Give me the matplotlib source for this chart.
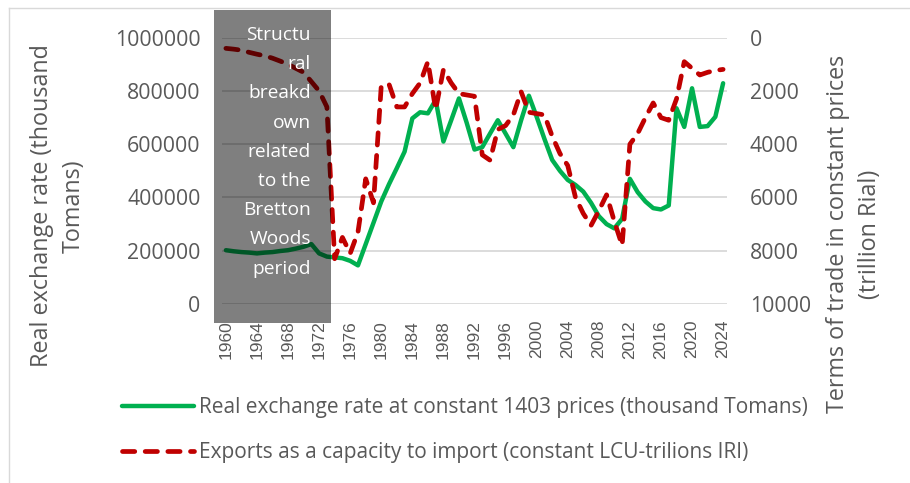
import numpy as np
import matplotlib.pyplot as plt
from matplotlib.patches import Rectangle
from matplotlib.lines import Line2D

# data
years = np.arange(1960, 2025)

real_exchange_rate = [
    202000, 198000, 195000, 193000, 190000, 193000, 195000, 199000, 202000, 208000,
    215000, 225000, 190000, 178000, 175000, 172000, 162000, 145000, 225000, 305000,
    385000, 450000, 510000, 572000, 697000, 720000, 716000, 766000, 610000, 690000,
    772000, 680000, 580000, 589000, 640000, 690000, 640000, 589000, 690000, 782000,
    703000, 620000, 541000, 500000, 466000, 447000, 422000, 380000, 330000, 300000,
    284000, 320000, 470000, 420000, 385000, 360000, 355000, 370000, 735000, 665000,
    810000, 665000, 668000, 703000, 829000,
]

exports_capacity = [
    400, 430, 470, 550, 620, 680, 770, 880, 1000, 1150,
    1300, 1650, 2000, 2600, 8300, 7500, 8100, 7300, 5300, 6200,
    1800, 1750, 2600, 2600, 2100, 1700, 900, 2700, 1200, 1700,
    2100, 2150, 2200, 4400, 4600, 3450, 3300, 2900, 2030, 2800,
    2850, 2900, 3700, 4350, 4800, 6000, 6600, 7050, 6500, 5900,
    6900, 7800, 4000, 3600, 3000, 2450, 3000, 3100, 2300, 900,
    1150, 1400, 1300, 1230, 1190,
]

tick_years = years[::4]
left_ticks = [0, 200000, 400000, 600000, 800000, 1000000]
right_ticks = [0, 2000, 4000, 6000, 8000, 10000]

left_label = 'Real exchange rate (thousand\nTomans)'
right_label = 'Terms of trade in constant prices\n(trillion Rial)'
green_name = 'Real exchange rate at constant 1403 prices (thousand Tomans)'
red_name = 'Exports as a capacity to import (constant LCU-trilions IRI)'
box_lines = ['Structu', 'ral', 'breakd', 'own', 'related', 'to the',
             'Bretton', 'Woods', 'period']

W, H = 910, 483
GREEN = '#00B050'
RED = '#C00000'
TXT = '#595959'
FONT = 'Open Sans'


def fx(x):
    return x / W


def fy(y):
    return 1 - y / H


fig = plt.figure(figsize=(W / 100, H / 100), dpi=100)

# chart area border (only top/left visible)
fig.add_artist(Line2D([fx(9), fx(9)], [fy(8), 0], color='#d9d9d9', lw=1))
fig.add_artist(Line2D([fx(9), 1], [fy(8), fy(8)], color='#d9d9d9', lw=1))

ax = fig.add_axes([fx(222), fy(304), (727 - 222) / W, (304 - 37.7) / H])
ax2 = ax.twinx()

ax.plot(years, real_exchange_rate, color=GREEN, lw=3.2, solid_capstyle='round',
        solid_joinstyle='round', label=green_name)
ax2.plot(years, exports_capacity, color=RED, lw=3.4, dashes=(2.6, 2.2),
         dash_capstyle='round', dash_joinstyle='round', label=red_name)

ax.set_xlim(1959.5, 2024.5)
ax.set_ylim(0, 1000000)
ax2.set_ylim(10000, 0)

ax.set_yticks(left_ticks)
ax.set_yticklabels([str(v) for v in left_ticks])
ax2.set_yticks(right_ticks)
ax2.set_yticklabels([str(v) for v in right_ticks])
ax.set_xticks(tick_years)
ax.set_xticklabels([str(y) for y in tick_years], rotation=90,
                   family='Liberation Sans', fontsize=12.5, color=TXT)

ax.grid(axis='y', color='#d9d9d9', lw=1.3)
ax.set_axisbelow(True)
for a in (ax, ax2):
    for s in a.spines.values():
        s.set_visible(False)
ax.tick_params(axis='x', length=0, pad=11.5)
ax.tick_params(axis='y', length=0, pad=15.5, labelsize=15.3, labelcolor=TXT)
ax2.tick_params(axis='y', length=0, pad=16.5, labelsize=15.3, labelcolor=TXT)
for lab in ax.get_yticklabels() + ax2.get_yticklabels():
    lab.set_family(FONT)

# axis titles
fig.text(fx(58), fy(206), left_label, rotation=90, ha='center', va='center',
         multialignment='center', family=FONT, fontsize=16.8, color=TXT,
         linespacing=1.45)
fig.text(fx(854), fy(234), right_label, rotation=90, ha='center', va='center',
         multialignment='center', family=FONT, fontsize=16.8, color=TXT,
         linespacing=1.4)

# shaded Bretton Woods box on top of the lines
fig.add_artist(Rectangle((fx(214), fy(323)), (331 - 214) / W, (323 - 10) / H,
                         facecolor='black', alpha=0.5, edgecolor='none',
                         transform=fig.transFigure, zorder=5))
for i, line in enumerate(box_lines):
    fig.text(fx(311), fy(35 + i * 29.2), line, ha='right', va='center',
             family=FONT, fontsize=13.8, color='white', zorder=6)

# legend
h1, l1 = ax.get_legend_handles_labels()
h2, l2 = ax2.get_legend_handles_labels()
fig.legend(h1 + h2, l1 + l2, loc='center left',
           bbox_to_anchor=(fx(122), fy(430)), frameon=False,
           prop={'family': FONT, 'size': 15}, labelcolor=TXT,
           handlelength=3.45, handletextpad=0.25, labelspacing=1.15,
           borderpad=0, borderaxespad=0)

fig.savefig('out.png', dpi=100)
